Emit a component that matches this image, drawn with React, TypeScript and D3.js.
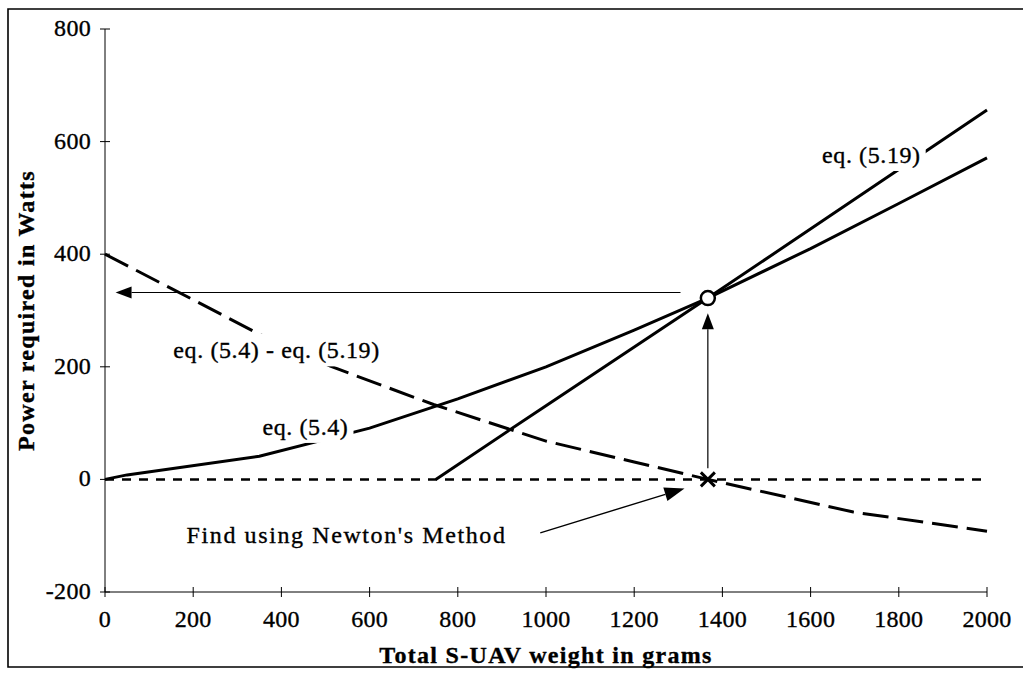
import React, { useEffect, useRef } from 'react';
import * as d3 from 'd3';

// Axis ticks
const xTicks = [0, 200, 400, 600, 800, 1000, 1200, 1400, 1600, 1800, 2000];
const yTicks = [-200, 0, 200, 400, 600, 800];

// eq. (5.4) : power required vs total weight
const eq54Weight = [0, 50, 350, 600, 800, 1000, 1200, 1367, 1600, 1800, 2000];
const eq54Power = [0, 8, 41, 91, 143, 200, 265, 322, 410, 490, 571];

// eq. (5.19)
const eq519Weight = [750, 1000, 1367, 2000];
const eq519Power = [0, 131, 322, 656];

// eq. (5.4) - eq. (5.19)
const diffWeight = [0, 200, 345, 511, 745, 1000, 1200, 1367, 1697, 2000];
const diffPower = [400, 319, 260, 201, 133, 68, 31, 0, -58, -92];

// zero reference line
const zeroWeight = [0, 2000];
const zeroPower = [0, 0];

// solution point
const rootWeight = 1367;
const rootPower = 322;

export default function App() {
  const ref = useRef<SVGSVGElement>(null);

  useEffect(() => {
    const W = 1023, H = 674;
    const svg = d3.select(ref.current);
    svg.selectAll('*').remove();
    const font = '"Liberation Serif", "Times New Roman", serif';

    const x = d3.scaleLinear().domain([0, 2000]).range([105, 987]);
    const y = d3.scaleLinear().domain([-200, 800]).range([592, 29]);

    svg.append('rect').attr('width', W).attr('height', H).attr('fill', '#fff');

    // frame
    svg.append('path')
      .attr('d', 'M1030,9 L8,9 L8,667 L1030,667')
      .attr('fill', 'none').attr('stroke', '#000').attr('stroke-width', 1.6);

    // axes
    const ax = svg.append('g').attr('stroke', '#000').attr('stroke-width', 1);
    ax.append('line').attr('x1', x(0)).attr('x2', x(0)).attr('y1', y(800)).attr('y2', y(-200));
    ax.append('line').attr('x1', x(0)).attr('x2', x(2000)).attr('y1', y(-200)).attr('y2', y(-200));
    yTicks.forEach(v => {
      ax.append('line').attr('x1', x(0) - 5).attr('x2', x(0) + 5).attr('y1', y(v)).attr('y2', y(v));
    });
    xTicks.forEach(v => {
      ax.append('line').attr('x1', x(v)).attr('x2', x(v)).attr('y1', y(-200) - 5).attr('y2', y(-200) + 5);
    });

    const txt = svg.append('g').attr('font-family', font).attr('fill', '#000')
      .attr('stroke', '#000').attr('stroke-width', 0.35);
    yTicks.forEach(v => {
      txt.append('text').attr('x', x(0) - 14).attr('y', y(v) + 7)
        .attr('text-anchor', 'end').attr('font-size', 24).attr('letter-spacing', 0.3)
        .text(String(v));
    });
    xTicks.forEach(v => {
      txt.append('text').attr('x', x(v)).attr('y', y(-200) + 35)
        .attr('text-anchor', 'middle').attr('font-size', 24).attr('letter-spacing', 0.3)
        .text(String(v));
    });
    txt.append('text').attr('x', x(1000)).attr('y', 663)
      .attr('text-anchor', 'middle').attr('font-size', 24).attr('font-weight', 'bold')
      .attr('letter-spacing', 1.3)
      .text('Total S-UAV weight in grams');
    txt.append('text').attr('transform', `translate(34,${(y(800) + y(-200)) / 2}) rotate(-90)`)
      .attr('text-anchor', 'middle').attr('font-size', 24).attr('font-weight', 'bold')
      .attr('letter-spacing', 1.3)
      .text('Power required in Watts');

    const line = d3.line<[number, number]>().x(d => x(d[0])).y(d => y(d[1]));
    const pts = (a: number[], b: number[]) => a.map((v, i) => [v, b[i]] as [number, number]);

    svg.append('path').attr('d', line(pts(zeroWeight, zeroPower)))
      .attr('fill', 'none').attr('stroke', '#000').attr('stroke-width', 2.5)
      .attr('stroke-dasharray', '9 8');
    svg.append('path').attr('d', line(pts(diffWeight, diffPower)))
      .attr('fill', 'none').attr('stroke', '#000').attr('stroke-width', 3)
      .attr('stroke-dasharray', '26 9');
    svg.append('path').attr('d', line(pts(eq54Weight, eq54Power)))
      .attr('fill', 'none').attr('stroke', '#000').attr('stroke-width', 3);
    svg.append('path').attr('d', line(pts(eq519Weight, eq519Power)))
      .attr('fill', 'none').attr('stroke', '#000').attr('stroke-width', 3);

    // labels with knockout background
    const label = (t: string, wx: number, wy: number, ls: number, size: number, knock: boolean) => {
      const g = svg.append('g');
      const te = g.append('text').attr('x', x(wx)).attr('y', y(wy))
        .attr('font-family', font).attr('font-size', size).attr('letter-spacing', ls)
        .attr('stroke', '#000').attr('stroke-width', 0.35)
        .text(t);
      if (knock) {
        const bb = (te.node() as SVGTextElement).getBBox();
        g.insert('rect', 'text').attr('x', bb.x - 5).attr('y', bb.y - 4)
          .attr('width', bb.width + 10).attr('height', bb.height + 7).attr('fill', '#fff');
      }
    };
    label('eq. (5.4)', 357, 79, 0.6, 24, true);
    label('eq. (5.4) - eq. (5.19)', 155, 215, 0.6, 24, true);
    label('eq. (5.19)', 1626, 562, 0.6, 24, true);
    label("Find using Newton's Method", 185, -113, 1.6, 24, false);

    // arrows
    const arrow = (x1: number, y1: number, x2: number, y2: number, len: number, hw: number, sw: number) => {
      const dx = x2 - x1, dy = y2 - y1;
      const L = Math.hypot(dx, dy);
      const ux = dx / L, uy = dy / L;
      const bx = x2 - ux * len, by = y2 - uy * len;
      svg.append('line').attr('x1', x1).attr('y1', y1).attr('x2', bx).attr('y2', by)
        .attr('stroke', '#000').attr('stroke-width', sw);
      svg.append('path')
        .attr('d', `M${x2},${y2}L${bx - uy * hw},${by + ux * hw}L${bx + uy * hw},${by - ux * hw}Z`)
        .attr('fill', '#000');
    };
    arrow(x(1305), y(332), x(24), y(332), 16, 6, 1.2);
    arrow(x(rootWeight), y(20), x(rootWeight), y(295), 16, 6, 1.2);
    arrow(x(987), y(-95), x(1314), y(-16), 20, 7, 1.4);

    // solution circle and root cross
    svg.append('circle').attr('cx', x(rootWeight)).attr('cy', y(rootPower)).attr('r', 7)
      .attr('fill', '#fff').attr('stroke', '#000').attr('stroke-width', 2.5);
    const cx = x(rootWeight), cy = y(0), s = 7;
    svg.append('path').attr('d', `M${cx - s},${cy - s}L${cx + s},${cy + s}M${cx - s},${cy + s}L${cx + s},${cy - s}`)
      .attr('stroke', '#000').attr('stroke-width', 3);
  }, []);

  return (
    <svg ref={ref} width={1023} height={674}
      style={{ position: 'absolute', left: 0, top: 0, display: 'block' }} />
  );
}
